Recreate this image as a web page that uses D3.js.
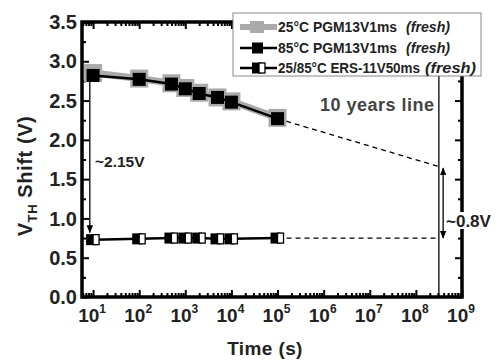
<!DOCTYPE html>
<html>
<head>
<meta charset="utf-8">
<script src="https://cdn.jsdelivr.net/npm/d3@7"></script>
<style>
  body { margin: 0; background: #fff; }
  text { font-family: "Liberation Sans", Arial, sans-serif; font-weight: bold; }
</style>
</head>
<body>
<svg id="chart" width="498" height="363"></svg>
<script>
// data
const times = [10, 100, 500, 1000, 2000, 5000, 10000, 100000];
const pgm25 = [2.85, 2.78, 2.72, 2.66, 2.60, 2.54, 2.49, 2.28];
const pgm85 = [2.82, 2.77, 2.71, 2.65, 2.59, 2.54, 2.48, 2.27];
const ers = [0.73, 0.74, 0.75, 0.75, 0.75, 0.74, 0.74, 0.75];
const tenYears = 3.15e8;      // 10 years in seconds
const pgmAt10y = 1.66;        // extrapolated shift at 10 years
const ersAt10y = 0.75;
const yTickVals = [0, 0.5, 1.0, 1.5, 2.0, 2.5, 3.0, 3.5];
const xDecades = [1, 2, 3, 4, 5, 6, 7, 8, 9];
const legendLabels = ["25\u00B0C PGM13V1ms", "85\u00B0C PGM13V1ms", "25/85\u00B0C ERS-11V50ms"];

const svg = d3.select("#chart");
const pl = 82, pr = 462, pt = 22, pb = 297;

const x = d3.scaleLog().domain([Math.pow(10, 0.76), 1e9]).range([pl, pr]);
const y = d3.scaleLinear().domain([0, 3.5]).range([pb, pt]);

// minor ticks
let xMinor = [];
for (let d = 0; d < 9; d++) {
  for (let k = 2; k <= 9; k++) {
    let v = k * Math.pow(10, d);
    if (v > x.domain()[0] && v < 1e9) xMinor.push(v);
  }
}
const xMajor = xDecades.map(d => Math.pow(10, d));
const yMinor = d3.range(0.25, 3.5, 0.5);

function tickStyle(g) {
  g.select(".domain").remove();
  g.selectAll("line").attr("stroke", "#000").attr("stroke-width", 2);
}

// bottom
svg.append("g").attr("transform", `translate(0,${pb})`)
  .call(d3.axisTop(x).tickValues(xMajor).tickSize(7).tickFormat(""))
  .call(tickStyle);
svg.append("g").attr("transform", `translate(0,${pb})`)
  .call(d3.axisTop(x).tickValues(xMinor).tickSize(4).tickFormat(""))
  .call(tickStyle);
// top
svg.append("g").attr("transform", `translate(0,${pt})`)
  .call(d3.axisBottom(x).tickValues(xMajor).tickSize(7).tickFormat(""))
  .call(tickStyle);
svg.append("g").attr("transform", `translate(0,${pt})`)
  .call(d3.axisBottom(x).tickValues(xMinor).tickSize(4).tickFormat(""))
  .call(tickStyle);
// left
svg.append("g").attr("transform", `translate(${pl},0)`)
  .call(d3.axisRight(y).tickValues(yTickVals).tickSize(7).tickFormat(""))
  .call(tickStyle);
svg.append("g").attr("transform", `translate(${pl},0)`)
  .call(d3.axisRight(y).tickValues(yMinor).tickSize(4).tickFormat(""))
  .call(tickStyle);
// right
svg.append("g").attr("transform", `translate(${pr},0)`)
  .call(d3.axisLeft(y).tickValues(yTickVals).tickSize(7).tickFormat(""))
  .call(tickStyle);
svg.append("g").attr("transform", `translate(${pr},0)`)
  .call(d3.axisLeft(y).tickValues(yMinor).tickSize(4).tickFormat(""))
  .call(tickStyle);

// frame
svg.append("rect")
  .attr("x", pl).attr("y", pt)
  .attr("width", pr - pl).attr("height", pb - pt)
  .attr("fill", "none").attr("stroke", "#000").attr("stroke-width", 3.5);

// y tick labels
svg.append("g").selectAll("text").data(yTickVals).enter().append("text")
  .attr("x", pl - 5).attr("y", d => y(d))
  .attr("dy", "0.36em")
  .attr("text-anchor", "end")
  .attr("font-size", 20)
  .attr("fill", "#222")
  .text(d => d.toFixed(1));

// x tick labels
const xl = svg.append("g").selectAll("text").data(xDecades).enter().append("text")
  .attr("x", d => x(Math.pow(10, d)) - 1).attr("y", 322)
  .attr("text-anchor", "middle")
  .attr("font-size", 19)
  .attr("fill", "#222");
xl.append("tspan").text("10");
xl.append("tspan").attr("font-size", 12).attr("dy", -9).text(d => d);

// axis titles
svg.append("text")
  .attr("x", 265).attr("y", 355)
  .attr("text-anchor", "middle")
  .attr("font-size", 19)
  .attr("letter-spacing", 0.4)
  .attr("fill", "#222")
  .text("Time (s)");

const yt = svg.append("text")
  .attr("transform", "translate(32,176) rotate(-90)")
  .attr("text-anchor", "middle")
  .attr("font-size", 20)
  .attr("letter-spacing", 0.6)
  .attr("fill", "#222");
yt.append("tspan").text("V");
yt.append("tspan").attr("font-size", 13).attr("dy", 5).text("TH");
yt.append("tspan").attr("dy", -5).text(" Shift (V)");

// 10 years vertical line
svg.append("line")
  .attr("x1", x(tenYears)).attr("x2", x(tenYears))
  .attr("y1", pt).attr("y2", pb)
  .attr("stroke", "#000").attr("stroke-width", 1.3);

// extrapolation dashed lines
svg.append("line")
  .attr("x1", x(times[times.length - 1])).attr("y1", y(pgm85[pgm85.length - 1]))
  .attr("x2", x(tenYears)).attr("y2", y(pgmAt10y))
  .attr("stroke", "#000").attr("stroke-width", 1.3).attr("stroke-dasharray", "5,4");
svg.append("line")
  .attr("x1", x(times[times.length - 1])).attr("y1", y(ers[ers.length - 1]))
  .attr("x2", x(tenYears)).attr("y2", y(ersAt10y))
  .attr("stroke", "#000").attr("stroke-width", 1.3).attr("stroke-dasharray", "5,4");

// arrows
const defs = svg.append("defs");
defs.append("marker").attr("id", "ah")
  .attr("viewBox", "0 0 10 10").attr("refX", 9).attr("refY", 5)
  .attr("markerWidth", 8).attr("markerHeight", 9)
  .attr("markerUnits", "userSpaceOnUse")
  .attr("orient", "auto-start-reverse")
  .append("path").attr("d", "M0,1 L10,5 L0,9 Z").attr("fill", "#000");

svg.append("line")
  .attr("x1", x(8.5)).attr("x2", x(8.5))
  .attr("y1", y(2.95)).attr("y2", y(0.82))
  .attr("stroke", "#000").attr("stroke-width", 1.3)
  .attr("marker-start", "url(#ah)").attr("marker-end", "url(#ah)");

svg.append("line")
  .attr("x1", x(3.9e8)).attr("x2", x(3.9e8))
  .attr("y1", y(pgmAt10y - 0.02)).attr("y2", y(ersAt10y + 0.0))
  .attr("stroke", "#000").attr("stroke-width", 1.3)
  .attr("marker-start", "url(#ah)").attr("marker-end", "url(#ah)");

// series lines
const line = d3.line().x(d => x(d[0])).y(d => y(d[1]));
svg.append("path").datum(times.map((t, i) => [t, pgm25[i]]))
  .attr("d", line).attr("fill", "none").attr("stroke", "#aaa").attr("stroke-width", 7);
svg.append("g").selectAll("rect").data(times.map((t, i) => [t, pgm25[i]])).enter().append("rect")
  .attr("x", d => x(d[0]) - 9).attr("y", d => y(d[1]) - 9)
  .attr("width", 18).attr("height", 18).attr("fill", "#aaa");

svg.append("path").datum(times.map((t, i) => [t, pgm85[i]]))
  .attr("d", line).attr("fill", "none").attr("stroke", "#000").attr("stroke-width", 2.5);
svg.append("g").selectAll("rect").data(times.map((t, i) => [t, pgm85[i]])).enter().append("rect")
  .attr("x", d => x(d[0]) - 6.5).attr("y", d => y(d[1]) - 6.5)
  .attr("width", 13).attr("height", 13).attr("fill", "#000");

svg.append("path").datum(times.map((t, i) => [t, ers[i]]))
  .attr("d", line).attr("fill", "none").attr("stroke", "#000").attr("stroke-width", 2.5);

function ersMarker(g, cx, cy) {
  g.append("rect").attr("x", cx - 7).attr("y", cy - 5.5).attr("width", 10).attr("height", 11).attr("fill", "#000");
  g.append("rect").attr("x", cx).attr("y", cy - 5).attr("width", 6).attr("height", 10)
    .attr("fill", "#fff").attr("stroke", "#000").attr("stroke-width", 1.3);
}
const ersG = svg.append("g");
times.forEach((t, i) => ersMarker(ersG, x(t), y(ers[i])));

// annotations
svg.append("text").attr("x", 95).attr("y", 167)
  .attr("font-size", 15.5).attr("fill", "#222").text("~2.15V");
svg.append("rect").attr("x", 446).attr("y", 212).attr("width", 46).attr("height", 17).attr("fill", "#fff");
svg.append("text").attr("x", 446).attr("y", 227)
  .attr("font-size", 17).attr("fill", "#222").text("~0.8V");
svg.append("text").attr("x", 320).attr("y", 111)
  .attr("font-size", 18).attr("letter-spacing", 0.5).attr("fill", "#444").text("10 years line");

// legend
const lg = svg.append("g");
lg.append("rect").attr("x", 233).attr("y", 13).attr("width", 248).attr("height", 63)
  .attr("fill", "#fff").attr("stroke", "#888").attr("stroke-width", 1);
const rowY = [27, 48, 68];
lg.append("line").attr("x1", 240).attr("x2", 277).attr("y1", rowY[0]).attr("y2", rowY[0])
  .attr("stroke", "#aaa").attr("stroke-width", 6);
lg.append("rect").attr("x", 250).attr("y", rowY[0] - 6).attr("width", 14).attr("height", 12).attr("fill", "#aaa");
lg.append("line").attr("x1", 240).attr("x2", 277).attr("y1", rowY[1]).attr("y2", rowY[1])
  .attr("stroke", "#000").attr("stroke-width", 2.5);
lg.append("rect").attr("x", 252).attr("y", rowY[1] - 5.5).attr("width", 11).attr("height", 11).attr("fill", "#000");
lg.append("line").attr("x1", 240).attr("x2", 277).attr("y1", rowY[2]).attr("y2", rowY[2])
  .attr("stroke", "#000").attr("stroke-width", 2.5);
ersMarker(lg, 259, rowY[2]);

const labLen = [119, 119, 142];
const freshX = [406, 406, 425];
const freshLen = [44, 44, 51];
legendLabels.forEach((lab, i) => {
  lg.append("text").attr("x", 278).attr("y", rowY[i]).attr("dy", "0.36em")
    .attr("font-size", 14).attr("fill", "#222")
    .attr("textLength", labLen[i]).attr("lengthAdjust", "spacingAndGlyphs")
    .text(lab);
  lg.append("text").attr("x", freshX[i]).attr("y", rowY[i]).attr("dy", "0.36em")
    .attr("font-size", 14).attr("font-style", "italic").attr("fill", "#222")
    .attr("textLength", freshLen[i]).attr("lengthAdjust", "spacingAndGlyphs")
    .text("(fresh)");
});
</script>
</body>
</html>
